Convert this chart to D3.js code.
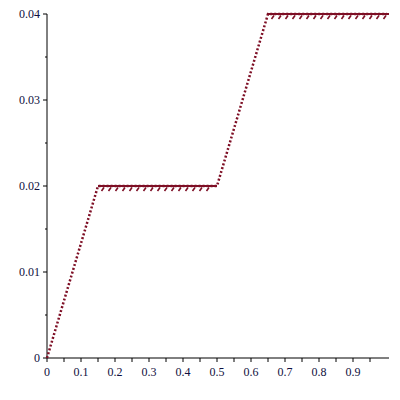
<!DOCTYPE html>
<meta charset="utf-8">
<style>
  body { margin: 0; background: #fff; }
  .axis text { font-family: "Liberation Serif", serif; font-size: 12px; fill: #101040; }
  .axis path, .axis line { stroke: #000; }
</style>
<body>
<svg width="400" height="400"></svg>
<script src="https://cdn.jsdelivr.net/npm/d3@7"></script>
<script>
  const xVals = [0, 0.15, 0.5, 0.65, 1];
  const yVals = [0, 0.02, 0.02, 0.04, 0.04];
  const xTicks = [0, 0.1, 0.2, 0.3, 0.4, 0.5, 0.6, 0.7, 0.8, 0.9];
  const yTicks = [0, 0.01, 0.02, 0.03, 0.04];

  const svg = d3.select("svg");
  const lineColor = "#7e0f25";

  const x = d3.scaleLinear().domain([0, 1]).range([47, 387]);
  const y = d3.scaleLinear().domain([0, 0.04]).range([358, 14]);

  const data = xVals.map((v, i) => ({x: v, y: yVals[i]}));

  // x axis
  const gx = svg.append("g").attr("class", "axis")
      .attr("transform", `translate(0,${y(0)})`);
  gx.append("line").attr("x1", x(0)).attr("x2", 389).attr("stroke", "#000");
  gx.selectAll(".minor").data(d3.range(0, 20).map(i => i * 0.05))
    .enter().append("line")
      .attr("x1", d => x(d)).attr("x2", d => x(d))
      .attr("y1", 0).attr("y2", 4);
  gx.selectAll("text").data(xTicks).enter().append("text")
      .attr("x", d => x(d)).attr("y", 18)
      .attr("text-anchor", "middle")
      .text(d => d3.format("")(d));

  // y axis
  const gy = svg.append("g").attr("class", "axis")
      .attr("transform", `translate(${x(0)},0)`);
  gy.append("line").attr("y1", y(0)).attr("y2", y(0.04)).attr("stroke", "#000");
  gy.selectAll(".minor").data(d3.range(0, 9).map(i => i * 0.005))
    .enter().append("line")
      .attr("y1", d => y(d)).attr("y2", d => y(d))
      .attr("x1", (d, i) => i % 2 ? -2 : -4).attr("x2", 0);
  gy.selectAll("text").data(yTicks).enter().append("text")
      .attr("x", -7).attr("y", d => y(d) + 4)
      .attr("text-anchor", "end")
      .text(d => d3.format("")(d));

  // dotted path
  const line = d3.line().x(d => x(d.x)).y(d => y(d.y));
  svg.append("path").datum(data)
      .attr("d", line)
      .attr("fill", "none")
      .attr("stroke", lineColor)
      .attr("stroke-width", 2.5)
      .attr("stroke-dasharray", "2,2");

  // flat segments: solid line plus hatching beneath
  const flats = [];
  for (let i = 0; i < data.length - 1; i++) {
    if (data[i].y === data[i + 1].y) flats.push([data[i], data[i + 1]]);
  }
  flats.forEach(([a, b]) => {
    const end = b.x === 1 ? 389 : x(b.x);
    svg.append("line")
        .attr("x1", x(a.x)).attr("x2", end)
        .attr("y1", y(a.y)).attr("y2", y(a.y))
        .attr("stroke", lineColor).attr("stroke-width", 2.2);
    const hx = d3.range(x(a.x) + 6, end - 2, 7);
    svg.selectAll(null).data(hx).enter().append("line")
        .attr("x1", d => d).attr("y1", y(a.y) + 1.5)
        .attr("x2", d => d - 2.5).attr("y2", y(a.y) + 5)
        .attr("stroke", lineColor).attr("stroke-width", 1.6);
  });
</script>
</body>
</html>
